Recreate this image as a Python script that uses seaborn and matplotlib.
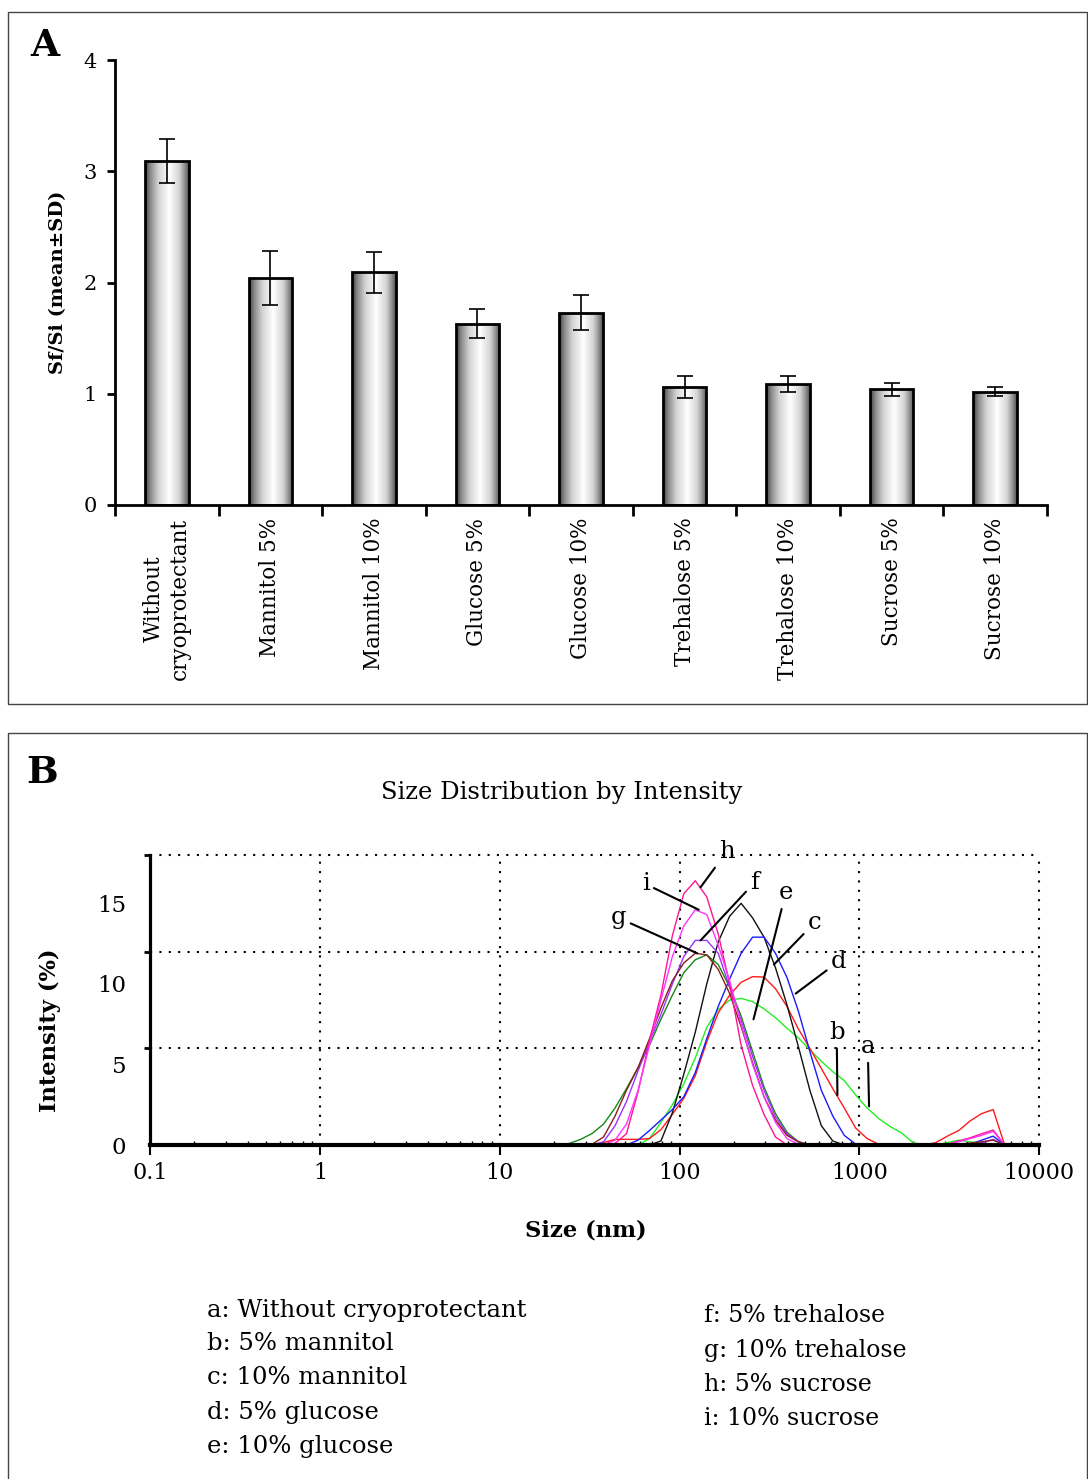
import numpy as np
import pandas as pd
import matplotlib
matplotlib.use('Agg')
import matplotlib.pyplot as plt
import seaborn as sns
from matplotlib.patches import Rectangle
from matplotlib.colors import LinearSegmentedColormap

# ---- Panel A: Sf/Si ratio per cryoprotectant ----
groups = ['Without\ncryoprotectant', 'Mannitol 5%', 'Mannitol 10%', 'Glucose 5%',
          'Glucose 10%', 'Trehalose 5%', 'Trehalose 10%', 'Sucrose 5%', 'Sucrose 10%']
sf_si_mean = [3.09, 2.04, 2.09, 1.63, 1.73, 1.06, 1.09, 1.04, 1.02]
sf_si_sd = [0.20, 0.24, 0.18, 0.13, 0.16, 0.10, 0.07, 0.06, 0.04]

# ---- Panel B: DLS size distribution by intensity ----
size_nm = [24.4, 28.2, 32.7, 37.8, 43.8, 50.7, 58.8, 68.1, 78.8, 91.3,
           105.7, 122.4, 141.8, 164.2, 190.1, 220.2, 255.0, 295.3, 342.0, 396.1,
           458.7, 531.2, 615.1, 712.4, 825.0, 955.4, 1106, 1281, 1484, 1718,
           1990, 2305, 2669, 3091, 3580, 4145, 4801, 5560, 6439, 7456]

curve_a = [0, 0, 0, 0, 0, 0, 0, 0.4, 1.4, 2.5,
           3.8, 5.4, 7.3, 8.4, 9.0, 9.1, 8.9, 8.45, 7.9, 7.25,
           6.65, 5.9, 5.2, 4.55, 4.0, 3.1, 2.3, 1.65, 1.15, 0.75,
           0.15, 0, 0, 0.15, 0.3, 0.2, 0.1, 0.05, 0, 0]
curve_b = [0, 0, 0, 0.15, 0.35, 0.35, 0.35, 0.4, 0.95, 1.9,
           2.9, 4.3, 6.4, 8.2, 9.3, 10.1, 10.45, 10.42, 9.7, 8.6,
           7.2, 6.0, 4.75, 3.5, 2.3, 1.05, 0.4, 0.05, 0, 0,
           0, 0, 0.15, 0.55, 0.9, 1.5, 1.95, 2.2, 0, 0]
curve_c = [0, 0, 0, 0, 0, 0, 0, 0, 0.25, 2.0,
           4.4, 7.0, 10.0, 12.6, 14.2, 15.0, 14.1, 12.9, 11.0, 8.7,
           6.1, 3.4, 1.2, 0.25, 0, 0, 0, 0, 0, 0,
           0, 0, 0, 0, 0, 0, 0, 0, 0, 0]
curve_d = [0, 0, 0, 0, 0, 0, 0.3, 0.9, 1.55, 2.2,
           3.0, 4.5, 6.6, 8.6, 10.3, 11.9, 12.9, 12.9, 11.9, 10.4,
           8.3, 5.8, 3.4, 1.8, 0.6, 0.05, 0, 0, 0, 0,
           0, 0, 0, 0, 0, 0.05, 0.3, 0.55, 0, 0]
curve_e = [0.1, 0.35, 0.72, 1.3, 2.3, 3.5, 4.8, 6.2, 7.8, 9.3,
           10.7, 11.5, 11.8, 11.2, 9.8, 8.0, 5.8, 3.6, 1.95, 0.8,
           0.2, 0, 0, 0, 0, 0, 0, 0, 0, 0,
           0, 0, 0, 0, 0, 0, 0, 0, 0, 0]
curve_f = [0, 0, 0, 0.2, 1.2, 2.7, 4.6, 6.4, 8.1, 10.0,
           11.7, 12.7, 12.7, 11.9, 9.8, 7.75, 5.5, 3.4, 1.75, 0.7,
           0.2, 0, 0, 0, 0, 0, 0, 0, 0, 0,
           0, 0, 0, 0, 0, 0, 0.15, 0.35, 0, 0]
curve_g = [0, 0, 0.05, 0.5, 1.8, 3.4, 4.8, 6.6, 8.5, 10.2,
           11.3, 11.9, 11.8, 10.9, 9.4, 7.35, 5.1, 3.0, 1.55, 0.6,
           0.2, 0, 0, 0, 0, 0, 0, 0, 0, 0,
           0, 0, 0, 0, 0.05, 0.12, 0.2, 0.3, 0, 0]
curve_h = [0, 0, 0, 0, 0.1, 0.7, 3.3, 6.5, 9.3, 13.0,
           15.6, 16.4, 15.4, 13.1, 10.0, 6.2, 3.7, 1.9, 0.5, 0,
           0, 0, 0, 0, 0, 0, 0, 0, 0, 0,
           0, 0, 0, 0.05, 0.25, 0.45, 0.7, 0.93, 0, 0]
curve_i = [0, 0, 0, 0, 0.3, 1.3, 3.4, 6.2, 9.0, 11.7,
           13.6, 14.6, 14.3, 12.4, 10.2, 7.5, 5.0, 3.0, 1.4, 0.4,
           0.05, 0, 0, 0, 0, 0, 0, 0, 0, 0,
           0, 0, 0, 0.05, 0.2, 0.4, 0.6, 0.85, 0, 0]

curves = {'a': curve_a, 'b': curve_b, 'c': curve_c, 'd': curve_d, 'e': curve_e,
          'f': curve_f, 'g': curve_g, 'h': curve_h, 'i': curve_i}
curve_colors = {'a': '#22ee22', 'b': '#ff1a1a', 'c': '#111111', 'd': '#1a1aff',
                'e': '#138a13', 'f': '#9a33ff', 'g': '#8b1c1c', 'h': '#ff1493',
                'i': '#ff33ff'}

legend_left = ['a: Without cryoprotectant', 'b: 5% mannitol', 'c: 10% mannitol',
               'd: 5% glucose', 'e: 10% glucose']
legend_right = ['f: 5% trehalose', 'g: 10% trehalose', 'h: 5% sucrose', 'i: 10% sucrose']

# label -> (text position, point on curve) in data coords
pointer_pos = {
    'h': ((183, 18.2), (131, 16.0)),
    'i': ((64.7, 16.2), (128, 14.6)),
    'f': ((262, 16.3), (131, 12.7)),
    'g': ((45.7, 14.1), (125.5, 11.9)),
    'e': ((390, 15.65), (258, 7.8)),
    'c': ((565, 13.8), (335, 11.2)),
    'd': ((769, 11.4), (443, 9.4)),
    'b': ((749, 7.0), (756, 3.1)),
    'a': ((1115, 6.1), (1134, 2.4)),
}

sns.set_style('ticks')
plt.rcParams['font.family'] = ['DejaVu Serif']
plt.rcParams.update({'text.color': 'black', 'axes.labelcolor': 'black',
                     'xtick.color': 'black', 'ytick.color': 'black',
                     'axes.edgecolor': 'black'})

W, H = 1088, 1479
fig = plt.figure(figsize=(W / 100, H / 100), dpi=100)


def fx(px):
    return px / W


def fy(py):
    return 1 - py / H


# panel frames
fig.add_artist(Rectangle((fx(8), fy(704)), fx(1087) - fx(8), fy(12) - fy(704),
                         transform=fig.transFigure, fill=False, lw=1.0, ec='#444444'))
fig.add_artist(Rectangle((fx(8), fy(1490)), fx(1087) - fx(8), fy(733) - fy(1490),
                         transform=fig.transFigure, fill=False, lw=1.0, ec='#444444'))

# ================= Panel A =================
axa = fig.add_axes([fx(115), fy(505), fx(1047) - fx(115), fy(60) - fy(505)])
sns.barplot(x=groups, y=sf_si_mean, ax=axa, width=0.42, color='white',
            edgecolor='black', linewidth=2.0, errorbar=None)

grad = LinearSegmentedColormap.from_list(
    'bargrad', [(0, '#3c3c3c'), (0.12, '#8a8a8a'), (0.3, '#d2d2d2'),
                (0.55, '#ffffff'), (0.78, '#d4d4d4'), (0.9, '#949494'), (1, '#505050')])
for p in axa.patches:
    x0, y0 = p.get_x(), p.get_y()
    w, h = p.get_width(), p.get_height()
    im = axa.imshow(np.linspace(0, 1, 256).reshape(1, -1), cmap=grad, aspect='auto',
                    extent=[x0, x0 + w, y0, y0 + h], zorder=1.5, interpolation='bilinear')
    im.set_clip_path(p)
    p.set_facecolor('none')
    p.set_zorder(2)

axa.errorbar(range(len(groups)), sf_si_mean, yerr=sf_si_sd, fmt='none', ecolor='black',
             elinewidth=1.2, capsize=6, capthick=1.2, zorder=3)

axa.set_xlim(-0.5, len(groups) - 0.5)
axa.set_ylim(0, 4)
axa.set_yticks([0, 1, 2, 3, 4])
axa.set_xticks(range(len(groups)))
axa.set_xticklabels(groups, rotation=90, ha='center', va='top',
                    multialignment='center', fontsize=15.5)
axa.set_xticks(np.arange(-0.5, len(groups), 1), minor=True)
axa.tick_params(axis='x', which='major', length=0, pad=9)
axa.tick_params(axis='x', which='minor', length=8, width=2, direction='out')
axa.tick_params(axis='y', length=6, width=2, direction='out', pad=7, labelsize=15)
for s in ['top', 'right']:
    axa.spines[s].set_visible(False)
for s in ['left', 'bottom']:
    axa.spines[s].set_linewidth(2.0)
axa.set_xlabel('')
axa.set_ylabel('Sf/Si (mean±SD)', fontsize=14, fontweight='bold')
axa.yaxis.set_label_coords((67 - 115) / 932, (505 - 282) / 445)
fig.text(fx(45), fy(45), 'A', fontsize=27, fontweight='bold', ha='center', va='center')

# ================= Panel B =================
axb = fig.add_axes([fx(150), fy(1145), fx(1039) - fx(150), fy(855) - fy(1145)])
axb.set_xscale('log')

long_df = pd.DataFrame([
    {'sample': k, 'size': s, 'intensity': v}
    for k, vals in curves.items() for s, v in zip(size_nm, vals)
])
sns.lineplot(data=long_df, x='size', y='intensity', hue='sample', palette=curve_colors,
             estimator=None, sort=False, legend=False, lw=1.0, ax=axb)

# the instrument's axis starts a little right of 0.1
x_left = 10 ** (-170 / 179.75)
axb.set_xlim(x_left, 10000)
axb.set_ylim(0, 18)

dot = (0, (1, 3.5))
for yv in [6, 12, 18]:
    axb.axhline(yv, color='black', lw=1.5, ls=dot, clip_on=False, zorder=1)
for xv in [1, 10, 100, 1000, 10000]:
    axb.axvline(xv, color='black', lw=1.5, ls=dot, clip_on=False, zorder=1)

axb.set_xticks([x_left, 1, 10, 100, 1000, 10000])
axb.set_xticklabels(['0.1', '1', '10', '100', '1000', '10000'], fontsize=16)
axb.tick_params(axis='x', which='major', length=7, width=1.5, direction='out', pad=5)
axb.tick_params(axis='x', which='minor', length=3, width=1, direction='in')
axb.set_yticks([0, 5, 10, 15])
axb.set_yticks([6, 12, 18], minor=True)
axb.tick_params(axis='y', which='major', length=0, pad=17, labelsize=16.5)
axb.tick_params(axis='y', which='minor', length=4, width=2, direction='out')
for s in ['top', 'right']:
    axb.spines[s].set_visible(False)
axb.spines['left'].set_linewidth(2.3)
axb.spines['bottom'].set_linewidth(3.0)

axb.set_xlabel('Size (nm)', fontsize=16.3, fontweight='bold')
axb.xaxis.set_label_coords((586 - 150) / 889, -(1219 - 1145) / 290)
axb.set_ylabel('Intensity (%)', fontsize=16.3, fontweight='bold')
axb.yaxis.set_label_coords((61 - 150) / 889, (1145 - 1030) / 290)
axb.text((562 - 150) / 889, (1145 - 792) / 290, 'Size Distribution by Intensity',
         transform=axb.transAxes, fontsize=17.5, ha='center', va='center')

for lab, (txt_xy, pt_xy) in pointer_pos.items():
    axb.annotate(lab, xy=pt_xy, xytext=txt_xy, fontsize=17.5, ha='center', va='center',
                 arrowprops=dict(arrowstyle='-', color='black', lw=1.5,
                                 shrinkA=1, shrinkB=0),
                 annotation_clip=False, zorder=5)

fig.text(fx(42), fy(772), 'B', fontsize=27, fontweight='bold', ha='center', va='center')

for k, t in enumerate(legend_left):
    fig.text(fx(207), fy(1310 + 34 * k), t, fontsize=17.5, ha='left', va='center')
for k, t in enumerate(legend_right):
    fig.text(fx(704), fy(1316 + 34.3 * k), t, fontsize=17, ha='left', va='center')

fig.savefig('out.png', dpi=100)
